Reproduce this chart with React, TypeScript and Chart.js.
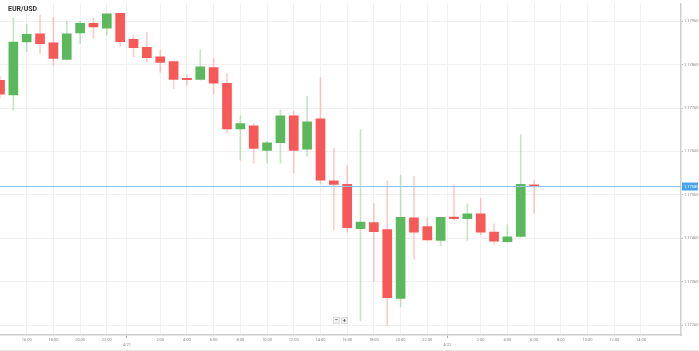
import React, { useEffect, useRef } from 'react';
import { Chart, registerables } from 'chart.js';
Chart.register(...registerables);

const title = 'EUR/USD';
// hour offsets relative to 0:00 on 4/21
const hours = [-10, -9, -8, -7, -6, -5, -4, -3, -2, -1, 0, 1, 2, 3, 4, 5, 6, 7, 8, 9, 10, 11, 12, 13, 14, 15, 16, 17, 18, 19, 20, 21, 22, 23, 24, 25, 26, 27, 28, 29, 30];
const opens = [1.17824, 1.1779, 1.17912, 1.17931, 1.1791, 1.17872, 1.17933, 1.17955, 1.17944, 1.17978, 1.17918, 1.179, 1.17878, 1.17867, 1.17827, 1.17826, 1.17853, 1.17817, 1.17712, 1.17719, 1.17662, 1.1768, 1.17742, 1.17665, 1.17735, 1.17592, 1.17584, 1.17482, 1.17496, 1.1748, 1.17321, 1.17507, 1.17487, 1.17455, 1.17508, 1.17505, 1.17516, 1.17474, 1.17452, 1.17464, 1.17583];
const highs = [1.17833, 1.17967, 1.17953, 1.17974, 1.17969, 1.1796, 1.1796, 1.17967, 1.17977, 1.1798, 1.17928, 1.17935, 1.17894, 1.17869, 1.17837, 1.17894, 1.17874, 1.1784, 1.17742, 1.17724, 1.17683, 1.17755, 1.17753, 1.17787, 1.1783, 1.17667, 1.17628, 1.1771, 1.1754, 1.17592, 1.17605, 1.17603, 1.17508, 1.17508, 1.17583, 1.17539, 1.17552, 1.17493, 1.17491, 1.17699, 1.17593];
const lows = [1.17783, 1.17755, 1.1789, 1.17885, 1.17858, 1.1787, 1.17908, 1.17921, 1.17928, 1.17903, 1.17878, 1.17867, 1.17842, 1.17805, 1.17812, 1.17824, 1.17792, 1.17703, 1.1764, 1.17633, 1.17633, 1.17633, 1.1761, 1.17649, 1.17585, 1.1748, 1.17474, 1.1727, 1.17361, 1.17258, 1.17302, 1.17412, 1.17455, 1.17443, 1.17501, 1.17455, 1.17467, 1.17446, 1.17451, 1.17462, 1.17518];
const closes = [1.17792, 1.17912, 1.1793, 1.17908, 1.17874, 1.17931, 1.17955, 1.17947, 1.17977, 1.17913, 1.17899, 1.17876, 1.17865, 1.17826, 1.17825, 1.17855, 1.17817, 1.17712, 1.17724, 1.17667, 1.1768, 1.17742, 1.17662, 1.17728, 1.17594, 1.17584, 1.17484, 1.17497, 1.17475, 1.17323, 1.17508, 1.17474, 1.17456, 1.17508, 1.17505, 1.17516, 1.17474, 1.17453, 1.17463, 1.17584, 1.17579];
const currentPrice = 1.1758;
const yTicks = [1.1726, 1.1736, 1.1746, 1.1756, 1.1766, 1.1776, 1.1786, 1.1796];
const hourTicks = [-8, -6, -4, -2, 2, 4, 6, 8, 10, 12, 14, 16, 18, 20, 22, 26, 28, 30, 32, 34, 36, 38];
const dayTicks = [-0.5, 23.5];
const dayLabels = ['4/21', '4/22'];

const GREEN = 'rgb(92,184,92)';
const RED = 'rgb(247,88,88)';
const GREEN_WICK = 'rgba(92,184,92,0.35)';
const RED_WICK = 'rgba(247,88,88,0.3)';

export default function App() {
  const ref = useRef<HTMLCanvasElement>(null);
  useEffect(() => {
    document.body.style.margin = '0';
    const up = opens.map((o, i) => closes[i] >= o);
    const overlay = {
      id: 'overlay',
      afterDatasetsDraw(chart: any) {
        const { ctx, chartArea, scales } = chart;
        const y = Math.round(scales.y.getPixelForValue(currentPrice)) + 0.5;
        ctx.save();
        ctx.strokeStyle = '#8ec3ec';
        ctx.lineWidth = 1;
        ctx.beginPath();
        ctx.moveTo(chartArea.left, y);
        ctx.lineTo(chartArea.right, y);
        ctx.stroke();
        ctx.fillStyle = '#47a3ea';
        ctx.fillRect(chartArea.right + 1, y - 4, 16, 8);
        ctx.fillStyle = '#fff';
        ctx.font = '4px Roboto';
        ctx.textAlign = 'left';
        ctx.textBaseline = 'middle';
        ctx.fillText(currentPrice.toFixed(5), chartArea.right + 3, y);
        // title
        ctx.fillStyle = '#333';
        ctx.font = 'bold 7px Roboto';
        ctx.textBaseline = 'middle';
        ctx.fillText(title, 8, 9);
        // zoom buttons
        const bx = 333, by = 317;
        ['\u2212', '+'].forEach((s, i) => {
          const x0 = bx + i * 8;
          ctx.fillStyle = '#efefef';
          ctx.fillRect(x0, by, 7, 7);
          ctx.strokeStyle = '#dddddd';
          ctx.strokeRect(x0 + 0.5, by + 0.5, 6, 6);
          ctx.fillStyle = '#555';
          ctx.font = 'bold 6px Roboto';
          ctx.textAlign = 'center';
          ctx.fillText(s, x0 + 3.5, by + 3.7);
        });
        ctx.restore();
      },
    };
    const chart = new Chart(ref.current!, {
      type: 'bar',
      data: {
        datasets: [
          {
            label: 'wick',
            data: hours.map((h, i) => ({ x: h, y: [lows[i], highs[i]] })) as any,
            backgroundColor: up.map((u) => (u ? GREEN_WICK : RED_WICK)),
            barThickness: 1,
            grouped: false,
            order: 2,
          } as any,
          {
            label: 'body',
            data: hours.map((h, i) => ({ x: h, y: [opens[i], closes[i]] })) as any,
            backgroundColor: up.map((u) => (u ? GREEN : RED)),
            barThickness: 9,
            minBarLength: 1.5,
            grouped: false,
            order: 1,
          } as any,
        ],
      },
      options: {
        animation: false,
        responsive: false,
        maintainAspectRatio: false,
        layout: { padding: 0 },
        plugins: { legend: { display: false }, tooltip: { enabled: false } },
        scales: {
          x: {
            type: 'linear',
            min: -10,
            max: 41,
            offset: false,
            afterBuildTicks: (s: any) => {
              s.ticks = [...hourTicks, ...dayTicks].sort((a, b) => a - b).map((v) => ({ value: v }));
            },
            afterFit: (s: any) => {
              s.height = 15;
            },
            grid: {
              offset: false,
              color: '#f1f1f1',
              lineWidth: 1,
              tickLength: 3,
              tickColor: (c: any) => (c.tick && dayTicks.includes(c.tick.value) ? '#aaa' : 'rgba(0,0,0,0)'),
            },
            border: { color: '#cfcfcf', width: 1.5 },
            ticks: {
              autoSkip: false,
              maxRotation: 0,
              padding: 0,
              color: '#888',
              font: { size: 4, family: 'Roboto' },
              callback: (v: any) => {
                const di = dayTicks.indexOf(v);
                if (di >= 0) return ['', dayLabels[di]];
                const hr = ((v % 24) + 24) % 24;
                return `${hr}:00`;
              },
            },
          },
          y: {
            type: 'linear',
            position: 'right',
            min: 1.17237,
            max: 1.18001,
            afterBuildTicks: (s: any) => {
              s.ticks = yTicks.map((v) => ({ value: v }));
            },
            afterFit: (s: any) => {
              s.width = 18;
            },
            grid: { color: '#f1f1f1', lineWidth: 1, tickLength: 2, tickColor: '#bbb' },
            border: { color: '#cfcfcf', width: 1.5 },
            ticks: {
              padding: 1,
              color: '#888',
              font: { size: 4, family: 'Roboto' },
              callback: (v: any) => Number(v).toFixed(5),
            },
          },
        },
      },
      plugins: [overlay],
    });
    return () => chart.destroy();
  }, []);
  return (
    <div style={{ width: 699, height: 351, position: 'relative', borderBottom: '1px solid #e6e6e6', boxSizing: 'border-box', background: '#fff' }}>
      <canvas ref={ref} width={699} height={350} style={{ display: 'block' }} />
    </div>
  );
}
